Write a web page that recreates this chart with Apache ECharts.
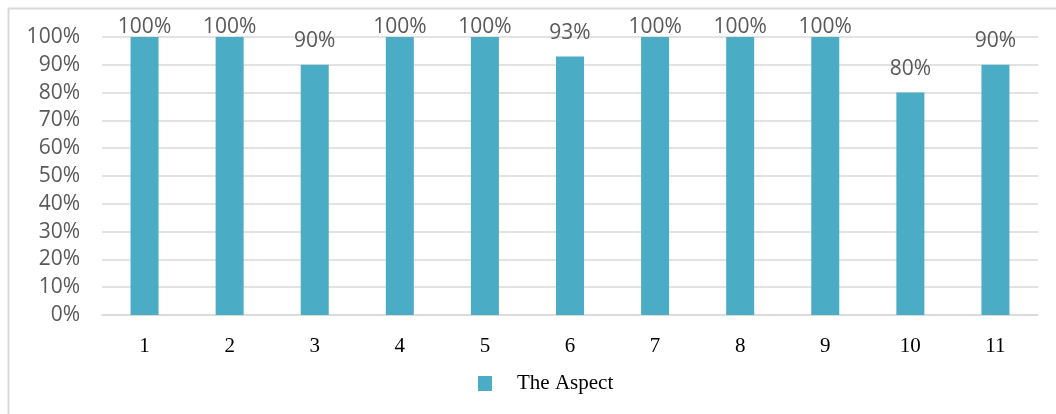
<!DOCTYPE html>
<html>
<head>
<meta charset="utf-8">
<script src="https://cdn.jsdelivr.net/npm/echarts@6/dist/echarts.min.js"></script>
<style>
html, body { margin: 0; padding: 0; background: #fff; }
#chart { width: 1056px; height: 414px; }
</style>
</head>
<body>
<div id="chart"></div>
<script>
// chart data
var categories = ['1', '2', '3', '4', '5', '6', '7', '8', '9', '10', '11'];
var aspectValues = [100, 100, 90, 100, 100, 93, 100, 100, 100, 80, 90];
var seriesName = 'The Aspect';

var sansFont = '"Open Sans", sans-serif';
var serifFont = '"Liberation Serif", "DejaVu Serif", serif';

// labels at 100% get pulled down into the plot like in the original
var barData = aspectValues.map(function (v) {
  return {
    value: v,
    label: { distance: v >= 100 ? -1 : 13 }
  };
});

var myChart = echarts.init(document.getElementById('chart'));
var option = {
  backgroundColor: '#fff',
  animation: false,
  graphic: [{
    type: 'rect',
    shape: { x: 8.5, y: 8.5, width: 1200, height: 600 },
    style: { fill: 'none', stroke: '#d9d9d9', lineWidth: 2 },
    silent: true
  }],
  grid: { left: 102, right: 18, top: 37, bottom: 99 },
  legend: {
    data: [seriesName],
    left: 478,
    top: 373,
    padding: 0,
    icon: 'rect',
    itemWidth: 14,
    itemHeight: 15,
    textStyle: {
      fontFamily: serifFont,
      fontSize: 21,
      color: '#000',
      padding: [0, 0, 0, 20]
    }
  },
  xAxis: {
    type: 'category',
    data: categories,
    axisLine: { show: true, lineStyle: { color: '#d9d9d9', width: 1.5 } },
    axisTick: { show: false },
    axisLabel: {
      fontFamily: serifFont,
      fontSize: 21,
      color: '#000',
      margin: 21
    }
  },
  yAxis: {
    type: 'value',
    min: 0,
    max: 100,
    interval: 10,
    axisLine: { show: false },
    axisTick: { show: false },
    splitLine: { show: true, lineStyle: { color: '#d9d9d9', width: 1.5 } },
    axisLabel: {
      formatter: '{value}%',
      fontFamily: sansFont,
      fontSize: 21,
      color: '#595959',
      margin: 22
    }
  },
  series: [{
    name: seriesName,
    type: 'bar',
    data: barData,
    barWidth: 28,
    itemStyle: { color: '#4BACC6' },
    label: {
      show: true,
      position: 'top',
      formatter: '{c}%',
      fontFamily: sansFont,
      fontSize: 21,
      color: '#595959'
    }
  }]
};
myChart.setOption(option);
</script>
</body>
</html>
